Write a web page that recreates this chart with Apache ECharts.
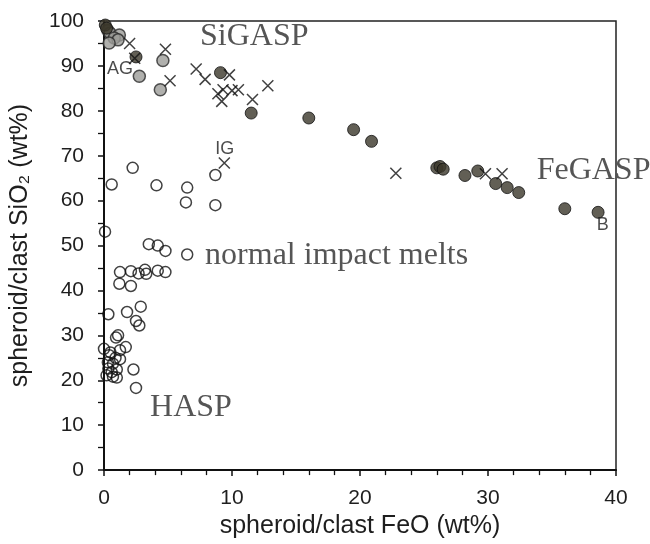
<!DOCTYPE html>
<html>
<head>
<meta charset="utf-8">
<script src="https://cdn.jsdelivr.net/npm/echarts@6/dist/echarts.min.js"></script>
<style>html,body{margin:0;padding:0;background:#fff}#c{width:650px;height:544px}</style>
</head>
<body>
<div id="c"></div>
<script>
// Data (FeO wt%, SiO2 wt%)
var openCircles = [[2.24,67.3],[0.6,63.6],[4.1,63.4],[6.5,62.9],[8.7,65.7],[6.4,59.6],[8.7,59.0],[0.08,53.1],
  [3.5,50.3],[4.2,50.0],[4.8,48.8],[6.5,48.0],[1.25,44.1],[2.1,44.3],[2.7,43.8],[3.2,44.6],[3.3,43.7],[4.2,44.4],
  [4.8,44.1],[1.2,41.5],[2.1,41.0],[2.87,36.4],[0.34,34.7],[1.8,35.2],[2.5,33.2],[2.76,32.2],[0.94,29.5],[1.1,30.0],
  [1.7,27.4],[0,27.0],[0.4,25.6],[1.25,26.7],[1.25,24.7],[0.7,23.7],[0.34,22.6],[1.0,22.4],[0.2,21.1],[0.7,20.8],
  [2.3,22.4],[2.5,18.3],[0.5,26.2],[0.9,25.0],[0.3,24.0],[0.6,21.8],[1.0,20.6]];
var grayCircles = [[0.3,97.9],[0.47,97.3],[1.2,96.9],[0.8,96.2],[1.1,95.8],[0.4,95.1],[2.76,87.7],[4.6,91.2],[4.4,84.7]];
var darkCircles = [[0.1,99.1],[0.2,98.4],[2.5,92.0],[9.1,88.5],[11.5,79.5],[16.0,78.4],[19.5,75.8],[20.9,73.2],
  [26.0,67.3],[26.25,67.6],[26.5,67.0],[28.2,65.6],[29.2,66.6],[30.6,63.8],[31.5,62.9],[32.4,61.8],[36.0,58.2],[38.6,57.4]];
var crosses = [[2.0,95.0],[4.8,93.7],[2.4,91.7],[5.16,86.7],[7.2,89.3],[7.9,87.0],[9.8,88.0],[8.9,83.8],[9.3,84.7],
  [9.2,82.1],[10.0,84.5],[10.5,84.7],[12.8,85.6],[11.6,82.5],[9.4,68.4],[22.8,66.1],[29.8,66.0],[31.1,66.0]];
var bigLabels = [[7.5,96.6,'SiGASP'],[33.8,66.7,'FeGASP'],[7.9,47.7,'normal impact melts'],[3.6,14.0,'HASP']];
var smallLabels = [[0.23,89.4,'AG'],[8.7,71.6,'IG'],[38.5,54.5,'B']];
var xTicks = {min:0, max:40, interval:10};
var yTicks = {min:0, max:100, interval:10};

var chart = echarts.init(document.getElementById('c'), null, {renderer:'canvas'});
var ink = '#1e1e1e';
chart.setOption({
  animation:false,
  backgroundColor:'#fff',
  grid:{left:104, right:34, top:21, bottom:72, show:true, borderColor:'#222', borderWidth:1.5},
  xAxis:{type:'value', min:xTicks.min, max:xTicks.max, interval:xTicks.interval,
    name:'spheroid/clast FeO (wt%)', nameLocation:'middle', nameGap:38,
    nameTextStyle:{fontFamily:'Liberation Sans', fontSize:25, color:ink},
    axisLine:{lineStyle:{color:'#111', width:2}},
    axisTick:{length:6, lineStyle:{color:'#111', width:1.5}},
    minorTick:{show:true, splitNumber:5, length:5, lineStyle:{color:'#111', width:1.3}},
    axisLabel:{fontFamily:'Liberation Sans', fontSize:21, color:ink, margin:18},
    splitLine:{show:false}},
  yAxis:{type:'value', min:yTicks.min, max:yTicks.max, interval:yTicks.interval,
    name:'spheroid/clast SiO\u2082 (wt%)', nameLocation:'middle', nameGap:71,
    nameTextStyle:{fontFamily:'Liberation Sans', fontSize:25, color:ink},
    axisLine:{lineStyle:{color:'#111', width:2}},
    axisTick:{length:6, lineStyle:{color:'#111', width:1.5}},
    minorTick:{show:true, splitNumber:2, length:6, lineStyle:{color:'#111', width:1.3}},
    axisLabel:{fontFamily:'Liberation Sans', fontSize:21, color:ink, margin:20},
    splitLine:{show:false}},
  series:[
    {type:'scatter', data:openCircles, symbol:'circle', symbolSize:11,
      itemStyle:{color:'rgba(255,255,255,0)', borderColor:'#111', borderWidth:1.5}},
    {type:'scatter', data:grayCircles, symbol:'circle', symbolSize:12,
      itemStyle:{color:'#9c9c98', borderColor:'#2a2a2a', borderWidth:1.5}},
    {type:'scatter', data:darkCircles, symbol:'circle', symbolSize:12,
      itemStyle:{color:'#3b372b', borderColor:'#111', borderWidth:1}},
    {type:'scatter', data:crosses, symbol:'path://M0,0L10,10M10,0L0,10', symbolSize:11,
      itemStyle:{color:'none', borderColor:'#111', borderWidth:1.5}},
    {type:'scatter', data:bigLabels, symbolSize:0, silent:true,
      label:{show:true, position:'right', distance:0, align:'left', verticalAlign:'middle',
        formatter:function(p){return p.data[2];},
        fontFamily:'Liberation Serif', fontSize:32, color:'#2a2a2a'}},
    {type:'scatter', data:smallLabels, symbolSize:0, silent:true,
      label:{show:true, position:'right', distance:0, align:'left', verticalAlign:'middle',
        formatter:function(p){return p.data[2];},
        fontFamily:'Liberation Sans', fontSize:18, color:ink}}
  ]
});
</script>
</body>
</html>
